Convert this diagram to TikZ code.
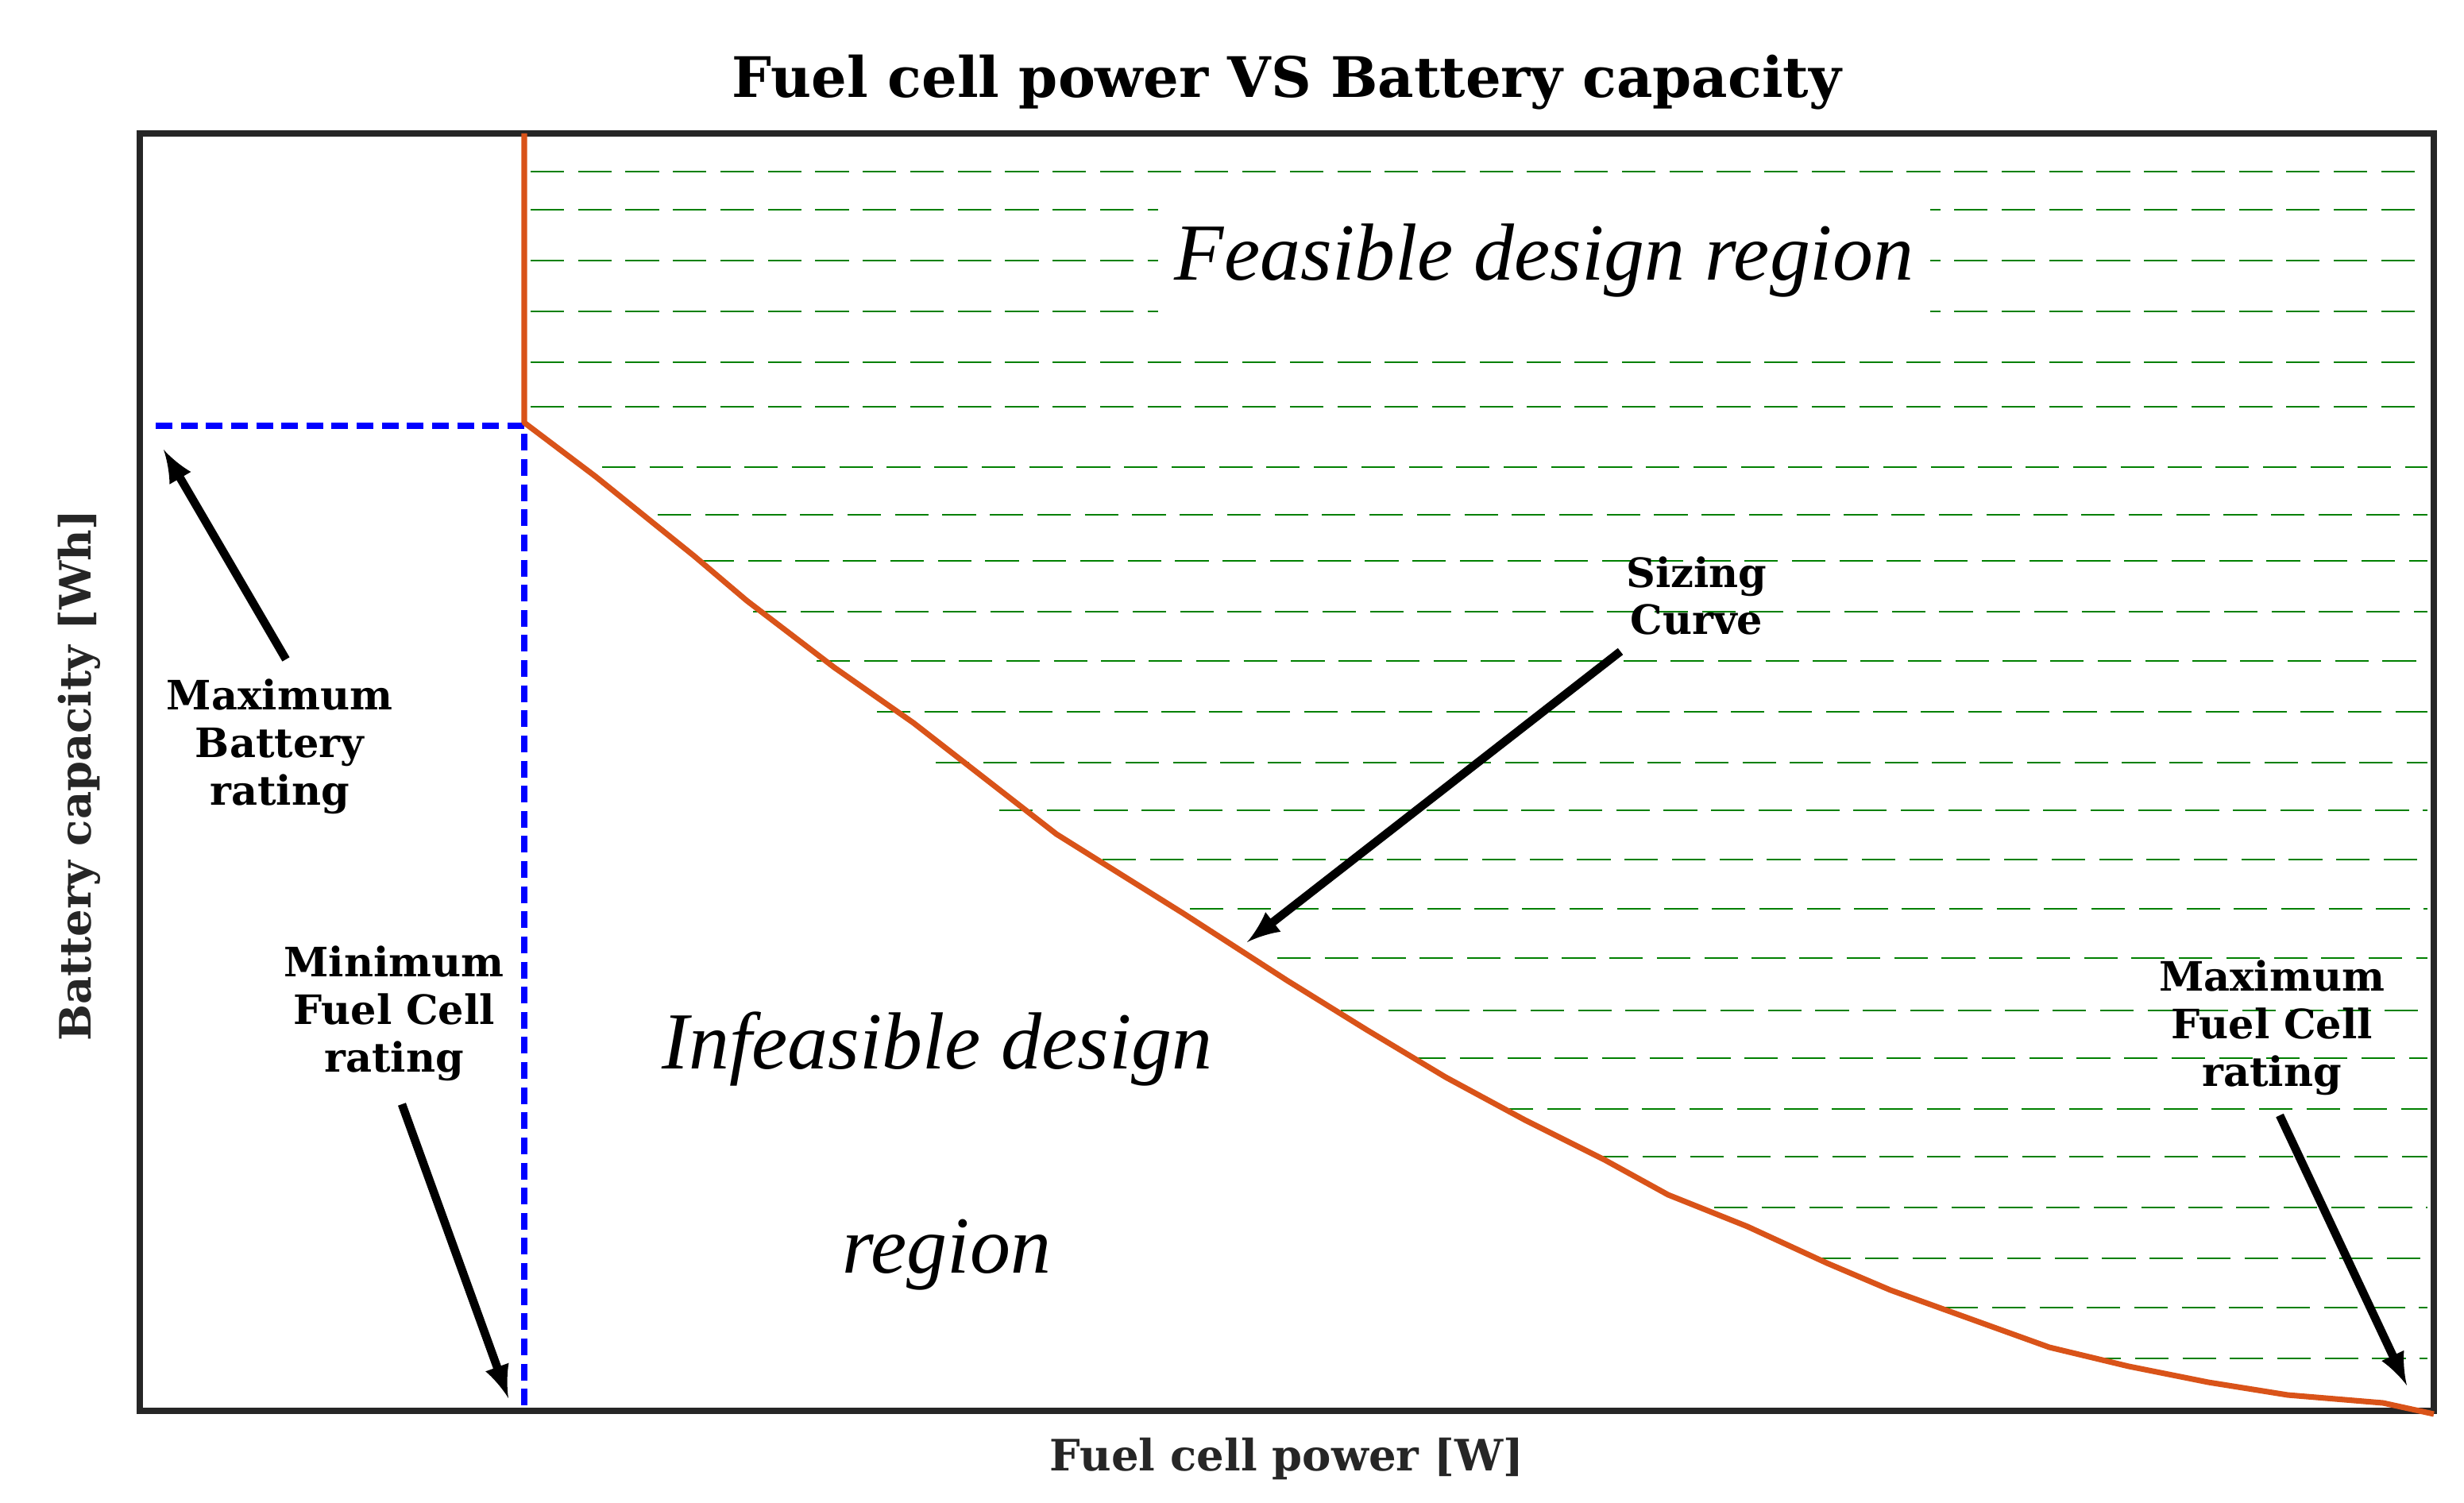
\documentclass[tikz,border=0pt]{standalone}
\usepackage{fontspec}
\setmainfont{DejaVu Serif}
\newfontfamily\scriptf{Liberation Serif}
\definecolor{curveor}{RGB}{217,83,25}
\begin{document}
\begin{tikzpicture}[x=0.02cm,y=-0.02cm,
  lbl/.style={font=\fontsize{14.5}{17}\selectfont\bfseries,align=center,text=black},
  arr/.style={-latex,line width=3pt,black},
  grn/.style={dash pattern=on 12pt off 5pt,green!50!black,line width=0.8pt},
  big/.style={font=\scriptf\itshape\fontsize{29}{33}\selectfont}]
\useasboundingbox (0,0) rectangle (1551,946);
% green dashed lines
\foreach \y/\x in {108/330,132/330,164/330,196/330,228/330,256/330,294/375,324/410,353/437,385/470,416/510,448/548,480/585,510/625,541/690,572/745,603/800,636/840,666/885,698/940,728/1000,760/1075,792/1140,823/1220,855/1310}
  \draw[grn] (\x+4,\y) -- (1528,\y);
\node[big,fill=white,inner sep=6pt] (feas) at (972,164) {Feasible design region};
% frame
\draw[line width=2.5pt,black!85] (88,84) rectangle (1532,888);
% blue dashed
\coordinate (b0) at (98,268); \coordinate (b1) at (330,268); \coordinate (b2) at (330,888);
\draw[blue,dash pattern=on 6pt off 3pt,line width=2pt] (b0) -- (b1) -- (b2);
% curve
\draw[curveor,line width=2pt,line join=round] (330,84) -- (330,266) -- (375,300) -- (437,350) -- (470,378) -- (525,420) -- (575,455) -- (620,490) -- (665,525) -- (745,575) -- (810,617) -- (860,648) -- (910,678) -- (960,705) -- (1010,730) -- (1050,752) -- (1100,772) -- (1150,795) -- (1190,812) -- (1240,830) -- (1290,848) -- (1340,860) -- (1390,870) -- (1440,878) -- (1500,883) -- (1532,890);
% texts
\node[font=\fontsize{20}{24}\selectfont\bfseries] (title) at (810,52) {Fuel cell power VS Battery capacity};
\node[font=\fontsize{15.5}{18}\selectfont\bfseries,text=black!85] (xl) at (810,918) {Fuel cell power [W]};
\node[font=\fontsize{15.5}{18}\selectfont\bfseries,text=black!85,rotate=90] (yl) at (50,488) {Battery capacity [Wh]};
\node[big] (inf) at (590,660) {Infeasible design};
\node[big] (reg) at (596,790) {region};
\node[lbl] (sz) at (1068,375) {Sizing\\Curve};
\node[lbl] (mb) at (176,470) {Maximum\\Battery\\rating};
\node[lbl] (mf) at (248,638) {Minimum\\Fuel Cell\\rating};
\node[lbl] (xf) at (1430,647) {Maximum\\Fuel Cell\\rating};
\coordinate (a1) at (785,593); \coordinate (a2) at (103,283);
\coordinate (a3) at (320,880); \coordinate (a4) at (1515,872);
\draw[arr] (1020,410) -- (a1);
\draw[arr] (180,415) -- (a2);
\draw[arr] (253,695) -- (a3);
\draw[arr] (1435,702) -- (a4);
\end{tikzpicture}
\end{document}
